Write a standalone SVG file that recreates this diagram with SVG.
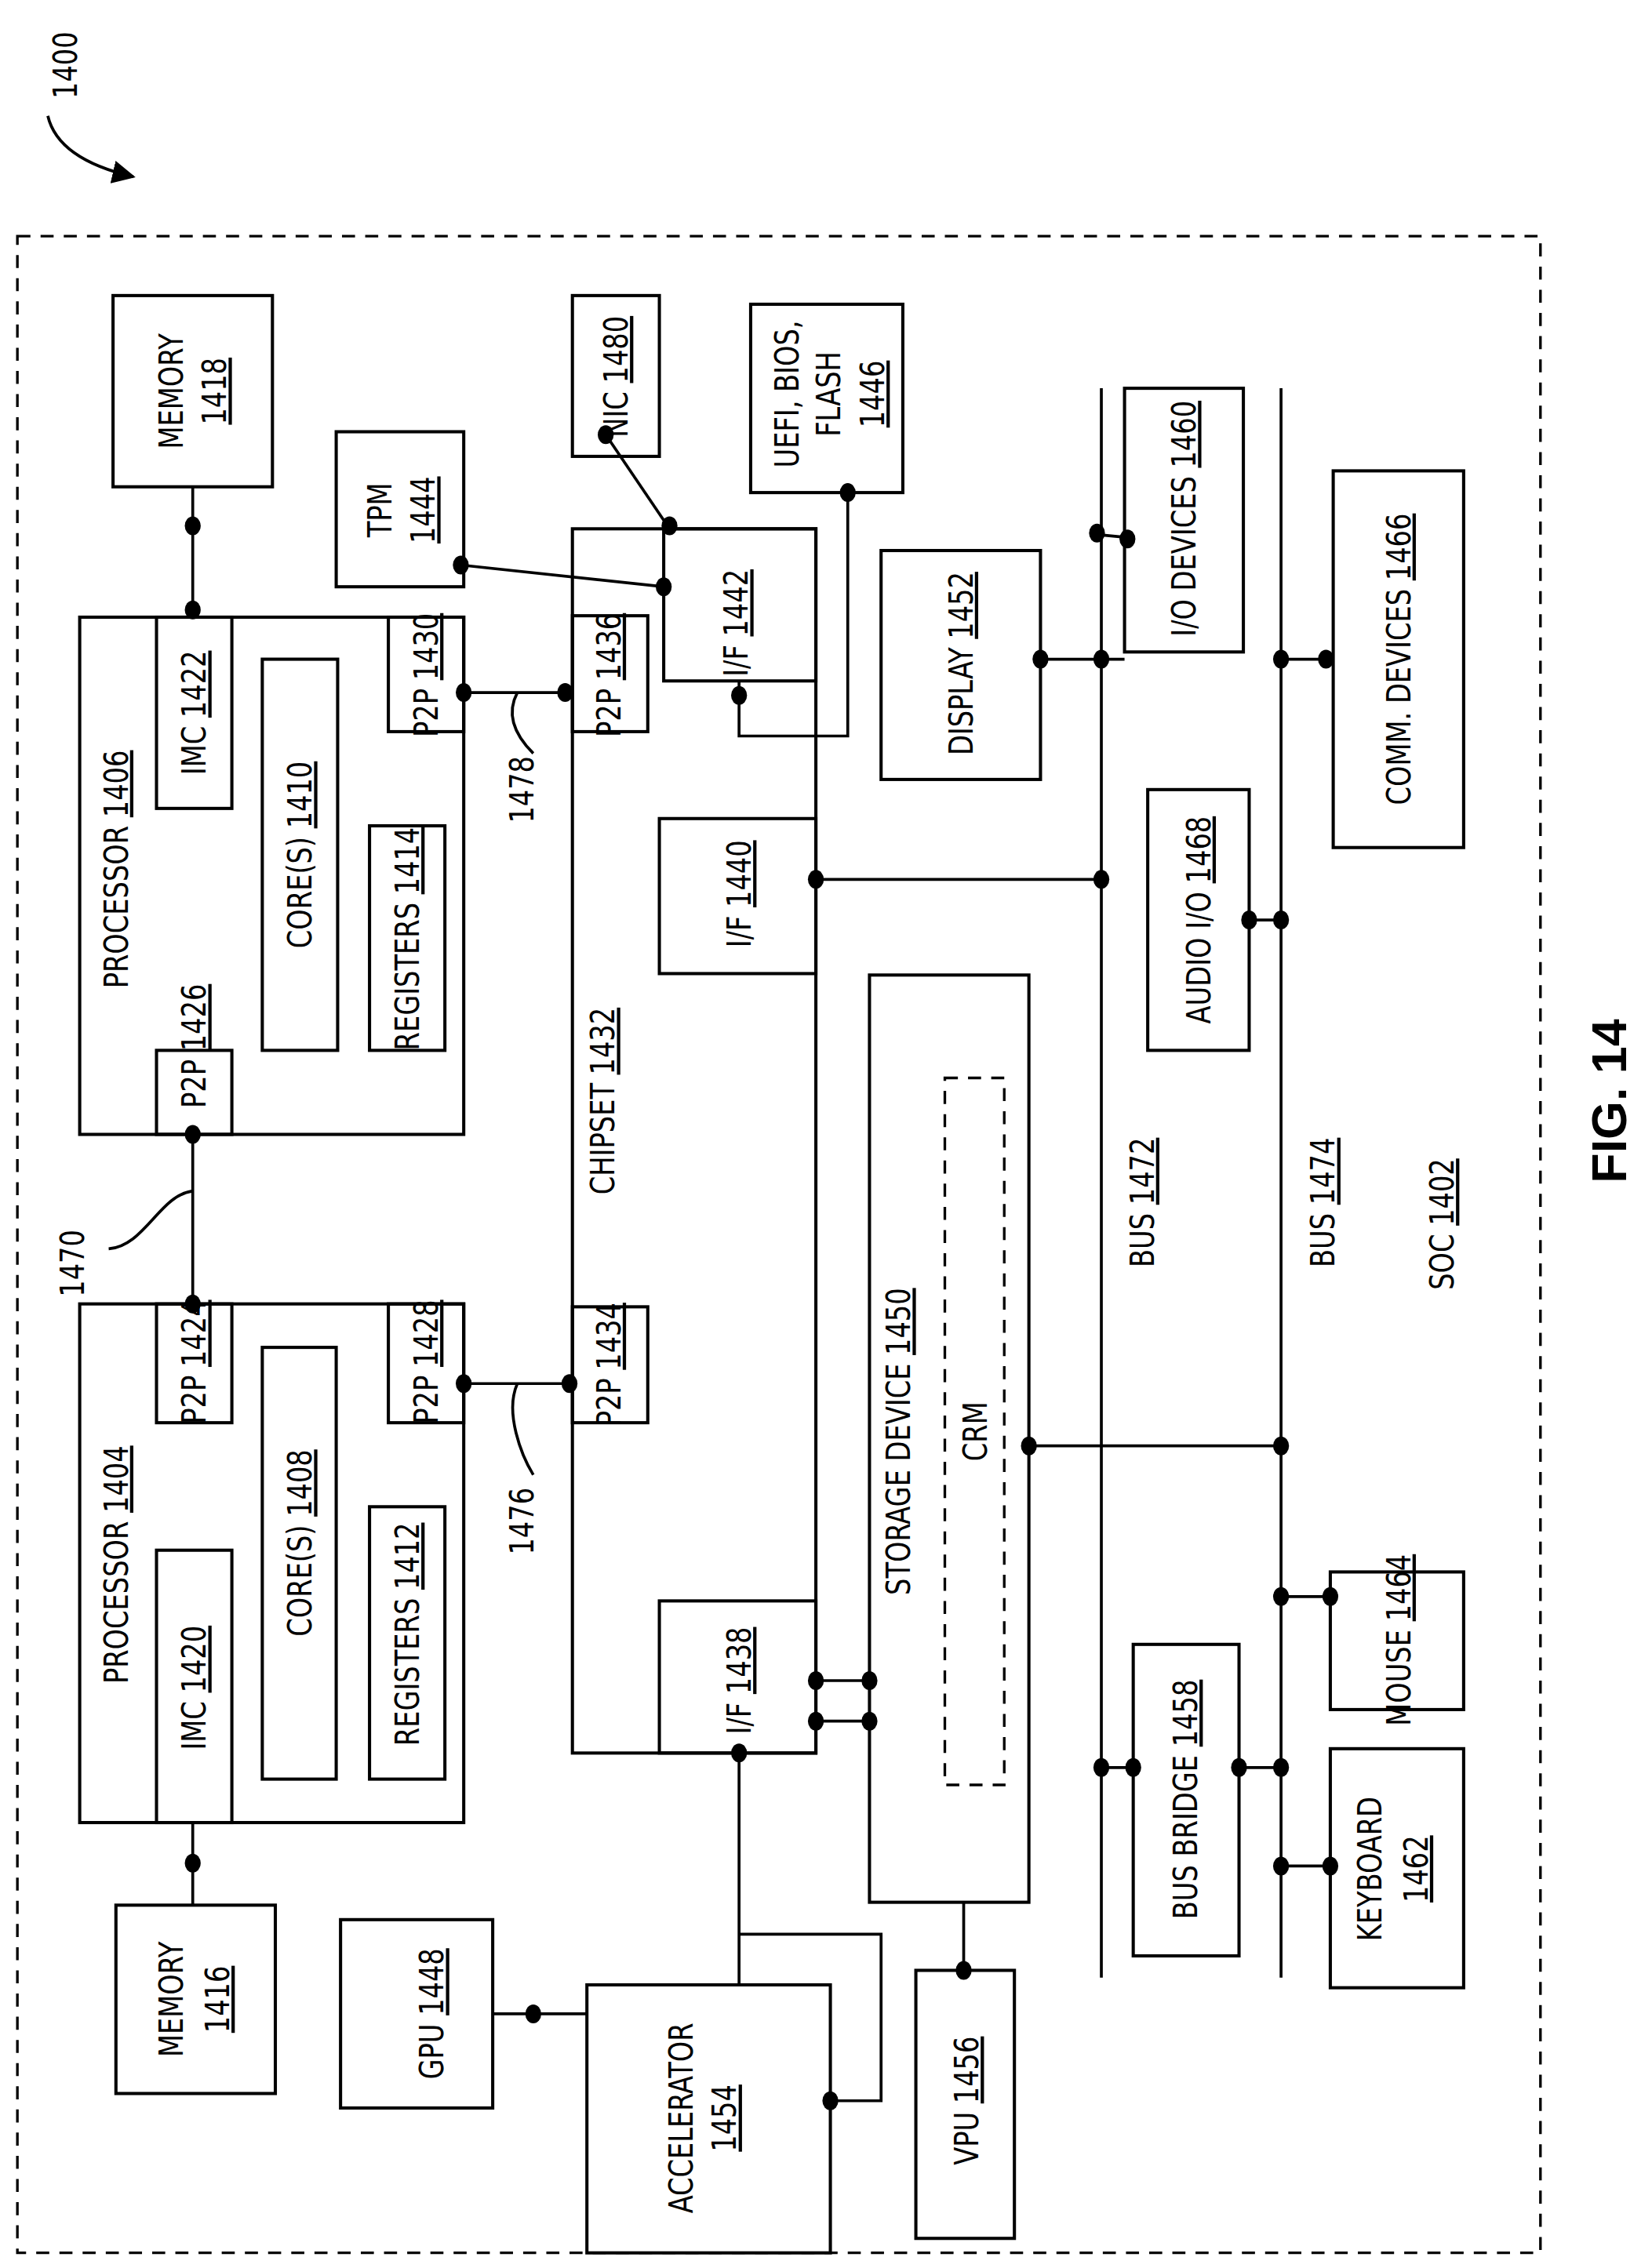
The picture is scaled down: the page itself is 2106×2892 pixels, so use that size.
<svg xmlns="http://www.w3.org/2000/svg" width="2106" height="2892" viewBox="0 0 2106 2892">
<defs>
<style>
rect{fill:none;stroke:#000;stroke-width:2.2}
.c path,.c line,.c polyline{fill:none;stroke:#000;stroke-width:2}
.d{fill:#000}
text{font-family:"DejaVu Sans Condensed","Liberation Sans",sans-serif;font-size:23px;text-anchor:middle;fill:#000}
.u{text-decoration:underline}
.dash{stroke-dasharray:9,7;stroke-width:1.8}
</style>
<marker id="ah" viewBox="0 0 10 10" refX="9" refY="5" markerWidth="16" markerHeight="16" orient="auto" markerUnits="userSpaceOnUse"><path d="M0,0L10,5L0,10z"/></marker>
</defs>
<rect x="0" y="0" width="2106" height="2892" style="fill:#fff;stroke:none"/>
<g transform="scale(1.8474)">
<g id="soc"><rect class="dash" x="12" y="163" width="1051" height="1392"/>
<text transform="translate(1003,845) rotate(-90) scale(0.88,1)">SOC <tspan class="u">1402</tspan></text></g>
<g id="label1400"><text transform="translate(53,45) rotate(-90) scale(0.88,1)">1400</text></g>
<g id="mem1418"><rect x="78" y="204" width="110" height="132"/><text transform="translate(126,270) rotate(-90) scale(0.88,1)">MEMORY</text><text transform="translate(156,270) rotate(-90) scale(0.88,1)" class="u">1418</text></g>
<g id="proc1406"><rect x="55" y="426" width="265" height="357"/>
<text transform="translate(88,600) rotate(-90) scale(0.88,1)">PROCESSOR <tspan class="u">1406</tspan></text>
<rect x="108" y="426" width="52" height="132"/><text transform="translate(142,492) rotate(-90) scale(0.88,1)">IMC <tspan class="u">1422</tspan></text>
<rect x="181" y="455" width="52" height="270"/><text transform="translate(215,590) rotate(-90) scale(0.88,1)">CORE(S) <tspan class="u">1410</tspan></text>
<rect x="255" y="570" width="52" height="155"/><text transform="translate(289,648) rotate(-90) scale(0.88,1)">REGISTERS <tspan class="u">1414</tspan></text>
<rect x="268" y="426" width="52" height="79"/><text transform="translate(302,466) rotate(-90) scale(0.88,1)">P2P <tspan class="u">1430</tspan></text>
<rect x="108" y="725" width="52" height="58"/><text transform="translate(142,722) rotate(-90) scale(0.88,1)">P2P <tspan class="u">1426</tspan></text></g>
<g id="proc1404"><rect x="55" y="900" width="265" height="358"/>
<text transform="translate(88,1080) rotate(-90) scale(0.88,1)">PROCESSOR <tspan class="u">1404</tspan></text>
<rect x="108" y="900" width="52" height="82"/><text transform="translate(142,940) rotate(-90) scale(0.88,1)">P2P <tspan class="u">1424</tspan></text>
<rect x="268" y="900" width="52" height="82"/><text transform="translate(302,940) rotate(-90) scale(0.88,1)">P2P <tspan class="u">1428</tspan></text>
<rect x="181" y="930" width="51" height="298"/><text transform="translate(215,1065) rotate(-90) scale(0.88,1)">CORE(S) <tspan class="u">1408</tspan></text>
<rect x="255" y="1040" width="52" height="188"/><text transform="translate(289,1128) rotate(-90) scale(0.88,1)">REGISTERS <tspan class="u">1412</tspan></text>
<rect x="108" y="1070" width="52" height="188"/><text transform="translate(142,1165) rotate(-90) scale(0.88,1)">IMC <tspan class="u">1420</tspan></text></g>
<g id="mem1416"><rect x="80" y="1315" width="110" height="130"/><text transform="translate(126,1380) rotate(-90) scale(0.88,1)">MEMORY</text><text transform="translate(158,1380) rotate(-90) scale(0.88,1)" class="u">1416</text></g>
<g id="chipset"><rect x="395" y="365" width="168" height="845"/>
<text transform="translate(424,760) rotate(-90) scale(0.88,1)">CHIPSET <tspan class="u">1432</tspan></text>
<rect x="395" y="425" width="52" height="80"/><text transform="translate(428,466) rotate(-90) scale(0.88,1)">P2P <tspan class="u">1436</tspan></text>
<rect x="395" y="902" width="52" height="80"/><text transform="translate(428,942) rotate(-90) scale(0.88,1)">P2P <tspan class="u">1434</tspan></text>
<rect x="458" y="365" width="105" height="105"/><text transform="translate(516,430) rotate(-90) scale(0.88,1)">I/F <tspan class="u">1442</tspan></text>
<rect x="455" y="565" width="108" height="107"/><text transform="translate(518,617) rotate(-90) scale(0.88,1)">I/F <tspan class="u">1440</tspan></text>
<rect x="455" y="1105" width="108" height="105"/><text transform="translate(518,1160) rotate(-90) scale(0.88,1)">I/F <tspan class="u">1438</tspan></text></g>
<g id="nic"><rect x="395" y="204" width="60" height="111"/><text transform="translate(433,260) rotate(-90) scale(0.88,1)">NIC <tspan class="u">1480</tspan></text></g>
<g id="tpm"><rect x="232" y="298" width="88" height="107"/><text transform="translate(270,352) rotate(-90) scale(0.88,1)">TPM</text><text transform="translate(300,352) rotate(-90) scale(0.88,1)" class="u">1444</text></g>
<g id="uefi"><rect x="518" y="210" width="105" height="130"/><text transform="translate(551,272) rotate(-90) scale(0.88,1)">UEFI, BIOS,</text><text transform="translate(580,272) rotate(-90) scale(0.88,1)">FLASH</text><text transform="translate(610,272) rotate(-90) scale(0.88,1)" class="u">1446</text></g>
<g id="display"><rect x="608" y="380" width="110" height="158"/><text transform="translate(671,458) rotate(-90) scale(0.88,1)">DISPLAY <tspan class="u">1452</tspan></text></g>
<g id="iodev"><rect x="776" y="268" width="82" height="182"/><text transform="translate(825,358) rotate(-90) scale(0.88,1)">I/O DEVICES <tspan class="u">1460</tspan></text></g>
<g id="comm"><rect x="920" y="325" width="90" height="260"/><text transform="translate(973,455) rotate(-90) scale(0.88,1)">COMM. DEVICES <tspan class="u">1466</tspan></text></g>
<g id="audio"><rect x="792" y="545" width="70" height="180"/><text transform="translate(835,635) rotate(-90) scale(0.88,1)">AUDIO I/O <tspan class="u">1468</tspan></text></g>
<g id="storage"><rect x="600" y="673" width="110" height="640"/><text transform="translate(628,995) rotate(-90) scale(0.88,1)">STORAGE DEVICE <tspan class="u">1450</tspan></text>
<rect class="dash" x="652" y="744" width="41" height="488"/><text transform="translate(681,988) rotate(-90) scale(0.88,1)">CRM</text></g>
<g id="bridge"><rect x="782" y="1135" width="73" height="215"/><text transform="translate(826,1242) rotate(-90) scale(0.88,1)">BUS BRIDGE <tspan class="u">1458</tspan></text></g>
<g id="mouse"><rect x="918" y="1085" width="92" height="95"/><text transform="translate(973,1132) rotate(-90) scale(0.88,1)">MOUSE <tspan class="u">1464</tspan></text></g>
<g id="keyboard"><rect x="918" y="1207" width="92" height="165"/><text transform="translate(953,1290) rotate(-90) scale(0.88,1)">KEYBOARD</text><text transform="translate(985,1290) rotate(-90) scale(0.88,1)" class="u">1462</text></g>
<g id="gpu"><rect x="235" y="1325" width="105" height="130"/><text transform="translate(306,1390) rotate(-90) scale(0.88,1)">GPU <tspan class="u">1448</tspan></text></g>
<g id="accel"><rect x="405" y="1370" width="168" height="185"/><text transform="translate(478,1462) rotate(-90) scale(0.88,1)">ACCELERATOR</text><text transform="translate(508,1462) rotate(-90) scale(0.88,1)" class="u">1454</text></g>
<g id="vpu"><rect x="632" y="1360" width="68" height="185"/><text transform="translate(675,1450) rotate(-90) scale(0.88,1)">VPU <tspan class="u">1456</tspan></text></g>
<g id="buses"><text transform="translate(796,830) rotate(-90) scale(0.88,1)">BUS <tspan class="u">1472</tspan></text><text transform="translate(921,830) rotate(-90) scale(0.88,1)">BUS <tspan class="u">1474</tspan></text></g>
<g id="reflabels"><text transform="translate(58,872) rotate(-90) scale(0.88,1)">1470</text><text transform="translate(368,545) rotate(-90) scale(0.88,1)">1478</text><text transform="translate(368,1050) rotate(-90) scale(0.88,1)">1476</text></g>
<g id="fig"><text transform="translate(1122,760) rotate(-90)" style="font-family:'Liberation Sans',sans-serif;font-weight:bold;font-size:34px">FIG. 14</text></g>
<g id="connectors" class="c">
<path d="M33,80 Q40,110 92,122" marker-end="url(#ah)"/>
<line x1="760" y1="268" x2="760" y2="1365"/><line x1="884" y1="268" x2="884" y2="1365"/>
<line x1="133" y1="336" x2="133" y2="426"/>
<line x1="133" y1="783" x2="133" y2="900"/>
<path d="M75,862 C100,860 110,825 133,822"/>
<line x1="133" y1="1258" x2="133" y2="1315"/>
<line x1="320" y1="478" x2="395" y2="478"/>
<path d="M357,478 C348,495 358,510 368,520"/>
<line x1="320" y1="955" x2="395" y2="955"/>
<path d="M357,955 C348,975 360,1005 368,1018"/>
<line x1="418" y1="300" x2="462" y2="365"/>
<line x1="318" y1="390" x2="458" y2="405"/>
<polyline points="510,470 510,508 585,508 585,340"/>
<line x1="718" y1="455" x2="776" y2="455"/>
<line x1="563" y1="607" x2="760" y2="607"/>
<line x1="757" y1="369" x2="778" y2="371"/>
<line x1="884" y1="455" x2="920" y2="455"/>
<line x1="862" y1="635" x2="884" y2="635"/>
<line x1="710" y1="998" x2="884" y2="998"/>
<line x1="563" y1="1160" x2="600" y2="1160"/><line x1="563" y1="1188" x2="600" y2="1188"/>
<line x1="760" y1="1220" x2="782" y2="1220"/><line x1="855" y1="1220" x2="884" y2="1220"/>
<line x1="884" y1="1102" x2="918" y2="1102"/><line x1="884" y1="1288" x2="918" y2="1288"/>
<line x1="340" y1="1390" x2="405" y2="1390"/>
<line x1="510" y1="1210" x2="510" y2="1370"/>
<polyline points="510,1335 608,1335 608,1450 573,1450"/>
<line x1="665" y1="1313" x2="665" y2="1360"/>
</g>
<g id="dots" class="d">
<ellipse cx="133" cy="363" rx="5.5" ry="6.5"/><ellipse cx="133" cy="421" rx="5.5" ry="6.5"/>
<ellipse cx="133" cy="783" rx="5.5" ry="6.5"/><ellipse cx="133" cy="900" rx="5.5" ry="6.5"/>
<ellipse cx="133" cy="1286" rx="5.5" ry="6.5"/>
<ellipse cx="320" cy="478" rx="5.5" ry="6.5"/><ellipse cx="390" cy="478" rx="5.5" ry="6.5"/>
<ellipse cx="320" cy="955" rx="5.5" ry="6.5"/><ellipse cx="393" cy="955" rx="5.5" ry="6.5"/>
<ellipse cx="418" cy="300" rx="5.5" ry="6.5"/><ellipse cx="462" cy="363" rx="5.5" ry="6.5"/>
<ellipse cx="318" cy="390" rx="5.5" ry="6.5"/><ellipse cx="458" cy="405" rx="5.5" ry="6.5"/>
<ellipse cx="510" cy="480" rx="5.5" ry="6.5"/><ellipse cx="585" cy="340" rx="5.5" ry="6.5"/>
<ellipse cx="718" cy="455" rx="5.5" ry="6.5"/><ellipse cx="760" cy="455" rx="5.5" ry="6.5"/>
<ellipse cx="757" cy="368" rx="5.5" ry="6.5"/><ellipse cx="778" cy="372" rx="5.5" ry="6.5"/>
<ellipse cx="884" cy="455" rx="5.5" ry="6.5"/><ellipse cx="915" cy="455" rx="5.5" ry="6.5"/>
<ellipse cx="563" cy="607" rx="5.5" ry="6.5"/><ellipse cx="760" cy="607" rx="5.5" ry="6.5"/>
<ellipse cx="862" cy="635" rx="5.5" ry="6.5"/><ellipse cx="884" cy="635" rx="5.5" ry="6.5"/>
<ellipse cx="710" cy="998" rx="5.5" ry="6.5"/><ellipse cx="884" cy="998" rx="5.5" ry="6.5"/>
<ellipse cx="563" cy="1160" rx="5.5" ry="6.5"/><ellipse cx="600" cy="1160" rx="5.5" ry="6.5"/>
<ellipse cx="563" cy="1188" rx="5.5" ry="6.5"/><ellipse cx="600" cy="1188" rx="5.5" ry="6.5"/>
<ellipse cx="760" cy="1220" rx="5.5" ry="6.5"/><ellipse cx="782" cy="1220" rx="5.5" ry="6.5"/>
<ellipse cx="855" cy="1220" rx="5.5" ry="6.5"/><ellipse cx="884" cy="1220" rx="5.5" ry="6.5"/>
<ellipse cx="884" cy="1102" rx="5.5" ry="6.5"/><ellipse cx="918" cy="1102" rx="5.5" ry="6.5"/>
<ellipse cx="884" cy="1288" rx="5.5" ry="6.5"/><ellipse cx="918" cy="1288" rx="5.5" ry="6.5"/>
<ellipse cx="510" cy="1210" rx="5.5" ry="6.5"/>
<ellipse cx="368" cy="1390" rx="5.5" ry="6.5"/><ellipse cx="573" cy="1450" rx="5.5" ry="6.5"/>
<ellipse cx="665" cy="1360" rx="5.5" ry="6.5"/>
</g>
</g>
</svg>
